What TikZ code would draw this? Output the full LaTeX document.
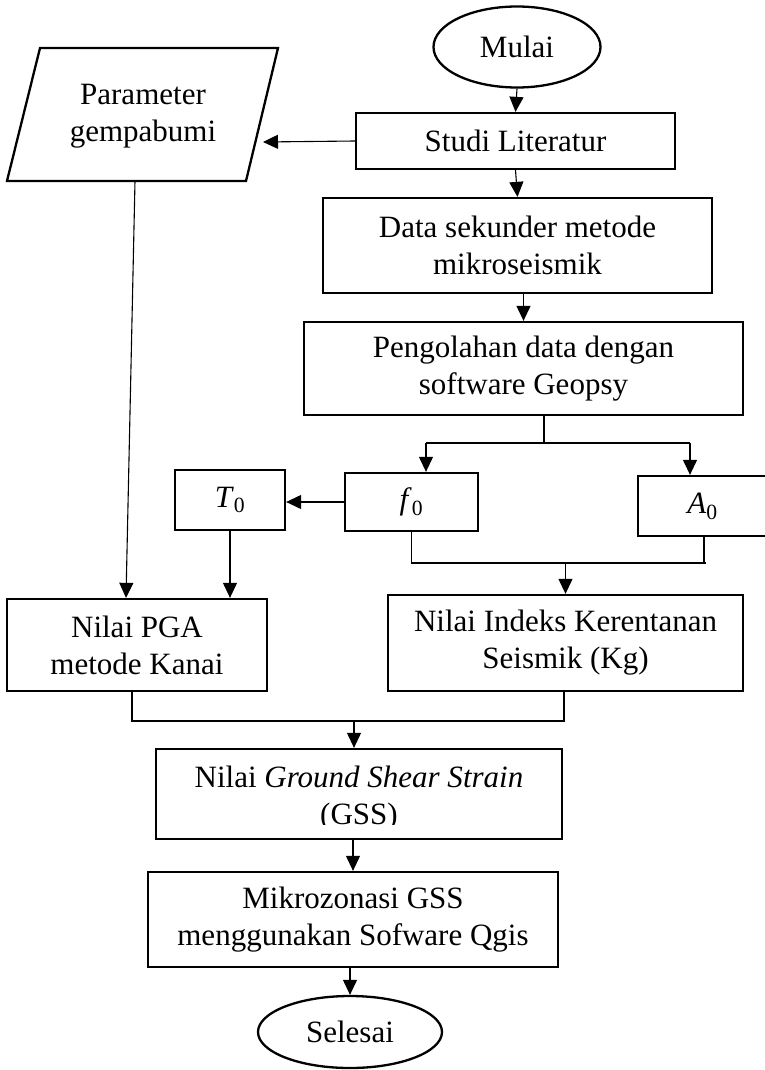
\documentclass[tikz,border=0pt]{standalone}
\usepackage{fontspec}
\setmainfont{Liberation Serif}
\usetikzlibrary{arrows.meta,shapes.geometric}
\begin{document}
\begin{tikzpicture}[x=1pt,y=-1pt,
  txt/.style={font=\fontsize{31}{37}\selectfont},
  box/.style={draw, line width=2.3pt, rectangle, inner sep=0pt, align=center, txt},
  term/.style={draw, line width=2.3pt, ellipse, inner sep=0pt, align=center, txt},
  conn/.style={line width=1.1pt},
  arr/.style={conn, -{Triangle[length=15pt,width=14pt]}}]
\clip (0,0) rectangle (765,1070);
\useasboundingbox (0,0) rectangle (765,1070);

% terminals
\node[term, minimum width=167pt, minimum height=81pt] (mulai) at (517,47) {Mulai};
\node[term, minimum width=184pt, minimum height=72pt] (selesai) at (350,1032) {Selesai};

% process boxes
\node[box, minimum width=319pt, minimum height=56pt] (studi) at (515.5,141) {Studi Literatur};
\node[box, minimum width=389pt, minimum height=95pt] (data) at (517.5,245.5) {Data sekunder metode\\mikroseismik};
\node[box, minimum width=439pt, minimum height=93pt] (peng) at (523.5,368.5) {Pengolahan data dengan\\software Geopsy};
\node[box, minimum width=110pt, minimum height=60pt] (t0) at (230,500) {\textit{T}\textsubscript{0}};
\node[box, minimum width=133pt, minimum height=58pt] (f0) at (411.5,502) {\textit{f}\textsubscript{0}};
\node[box, minimum width=129pt, minimum height=60pt] (a0) at (702.5,506) {\textit{A}\textsubscript{0}};
\node[box, minimum width=260pt, minimum height=92pt] (pga) at (137,645) {Nilai PGA\\metode Kanai};
\node[box, minimum width=355pt, minimum height=96pt] (kg) at (565.5,643) {Nilai Indeks Kerentanan\\Seismik (Kg)};
\node[box, minimum width=406pt, minimum height=90pt] (gss) at (359,794) {};
\begin{scope}
  \clip (150,740) rectangle (570,824.5);
  \node[txt, align=center] (gsstext) at (359,799) {Nilai \textit{Ground Shear Strain}\\(GSS)};
\end{scope}
\node[box, minimum width=410pt, minimum height=95pt] (mikro) at (353,919.5) {Mikrozonasi GSS\\menggunakan Sofware Qgis};

% input parallelogram
\draw[line width=2.3pt, line join=miter] (40,48) -- (278,48) -- (246,181) -- (7,181) -- cycle;
\node[txt, align=center] (param) at (143,116) {Parameter\\gempabumi};
\coordinate (pR) at (263,142);
\coordinate (pB) at (135,181);

% connectors
\draw[arr] (mulai.south) -- (studi.north);
\draw[arr] (studi.south) -- (data.north);
\draw[arr] (peng.north |- data.south) -- (peng.north);
\draw[arr] (studi.west) -- (pR);
\draw[arr] (pB) -- ([xshift=-11pt]pga.north);

\coordinate (s1) at (544,443);
\coordinate (fa) at (426,443);
\coordinate (aa) at (690,443);
\draw[conn] (peng.south -| s1) -- (s1);
\draw[conn] (fa) -- (aa);
\draw[arr] (fa) -- (fa |- f0.north);
\draw[arr] (aa) -- (aa |- a0.north);

\draw[arr] (f0.west) -- (f0.west -| t0.east);
\draw[arr] (t0.south) -- (t0.south |- pga.north);

\coordinate (m1) at (412,563);
\coordinate (m2) at (706,563);
\draw[conn] (f0.south) -- (f0.south |- m1) -- (m2);
\draw[conn] ([xshift=1.5pt]a0.south) -- ([xshift=1.5pt]a0.south |- m1);
\draw[arr] (m1 -| kg.north) -- (kg.north);

\coordinate (j) at (0,721);
\draw[conn] ([xshift=-5pt]pga.south) -- ([xshift=-5pt]pga.south |- j) -- ([xshift=-1.5pt]kg.south |- j) -- ([xshift=-1.5pt]kg.south);
\draw[arr] ([xshift=-5pt]gss.north |- j) -- ([xshift=-5pt]gss.north);
\draw[arr] (mikro.north |- gss.south) -- (mikro.north);
\draw[arr] (selesai.north |- mikro.south) -- (selesai.north);
\end{tikzpicture}
\end{document}
